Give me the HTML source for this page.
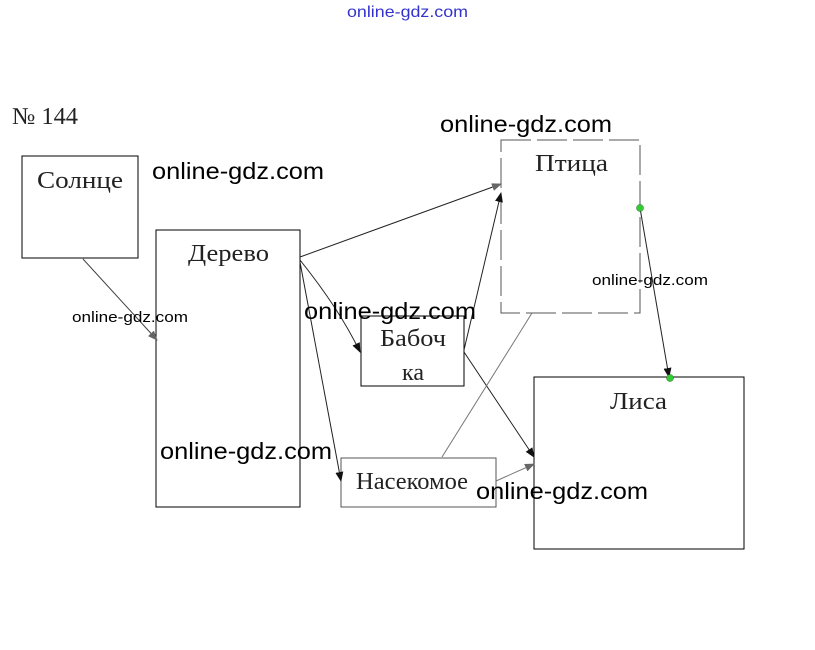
<!DOCTYPE html>
<html><head><meta charset="utf-8"><style>
html,body{margin:0;padding:0;background:#fff;width:815px;height:650px;overflow:hidden}
svg{display:block}
.s{font-family:"Liberation Serif","DejaVu Serif",serif;font-size:24px;fill:#222}
.w{font-family:"Liberation Sans","DejaVu Sans",sans-serif;fill:#000}
</style></head><body>
<svg width="815" height="650" viewBox="0 0 815 650" xmlns="http://www.w3.org/2000/svg">
<defs>
<marker id="a" markerWidth="10" markerHeight="8" refX="9" refY="4" orient="auto" markerUnits="userSpaceOnUse"><path d="M0,0 L10,4 L0,8 z" fill="#111"/></marker>
<marker id="g" markerWidth="10" markerHeight="8" refX="9" refY="4" orient="auto" markerUnits="userSpaceOnUse"><path d="M0,0 L10,4 L0,8 z" fill="#666"/></marker>
</defs>
<text x="347" y="17" textLength="121" lengthAdjust="spacingAndGlyphs" font-family="Liberation Sans,sans-serif" font-size="16" fill="#3333cc">online-gdz.com</text>
<text x="12" y="124" class="s" font-size="21" textLength="66" lengthAdjust="spacingAndGlyphs">№ 144</text>
<g fill="none" stroke="#000" stroke-width="1">
<rect x="22" y="156" width="116" height="102"/>
<rect x="156" y="230" width="144" height="277"/>
<rect x="501" y="140" width="139" height="173" stroke="#555" stroke-dasharray="30,6"/>
<rect x="361" y="316" width="103" height="70"/>
<rect x="341" y="458" width="155" height="49" stroke="#555"/>
<rect x="534" y="377" width="210" height="172"/>
</g>
<text x="37" y="188" textLength="86" lengthAdjust="spacingAndGlyphs" class="s">Солнце</text>
<text x="188" y="261" textLength="81" lengthAdjust="spacingAndGlyphs" class="s">Дерево</text>
<text x="535" y="171" textLength="73" lengthAdjust="spacingAndGlyphs" class="s" fill="#555">Птица</text>
<text x="380" y="346" textLength="66" lengthAdjust="spacingAndGlyphs" class="s" fill="#555">Бабоч</text>
<text x="413" y="380" text-anchor="middle" class="s">ка</text>
<text x="356" y="489" textLength="112" lengthAdjust="spacingAndGlyphs" class="s" fill="#444">Насекомое</text>
<text x="610" y="409" textLength="57" lengthAdjust="spacingAndGlyphs" class="s">Лиса</text>
<g fill="none" stroke-width="1">
<line x1="83" y1="259" x2="157" y2="340" stroke="#444" marker-end="url(#g)"/>
<line x1="300" y1="257" x2="501" y2="184" stroke="#222" marker-end="url(#g)"/>
<path d="M300,260 Q340,310 360,352" stroke="#222" marker-end="url(#a)"/>
<line x1="300" y1="262" x2="341" y2="481" stroke="#222" marker-end="url(#a)"/>
<line x1="464" y1="350" x2="501" y2="193" stroke="#222" marker-end="url(#a)"/>
<line x1="464" y1="352" x2="534" y2="457" stroke="#222" marker-end="url(#a)"/>
<line x1="442" y1="457" x2="532" y2="313" stroke="#777"/>
<line x1="496" y1="481" x2="534" y2="464" stroke="#777" marker-end="url(#g)"/>
<line x1="640" y1="208" x2="669" y2="377" stroke="#222" marker-end="url(#a)"/>
</g>
<circle cx="640" cy="208" r="3.5" fill="#33cc33" stroke="#226622" stroke-width="0.5"/>
<circle cx="670" cy="378" r="3.5" fill="#33cc33" stroke="#226622" stroke-width="0.5"/>
<text x="152" y="179" textLength="172" lengthAdjust="spacingAndGlyphs" class="w" font-size="23">online-gdz.com</text>
<text x="440" y="132" textLength="172" lengthAdjust="spacingAndGlyphs" class="w" font-size="23">online-gdz.com</text>
<text x="72" y="322" textLength="116" lengthAdjust="spacingAndGlyphs" class="w" font-size="15">online-gdz.com</text>
<text x="592" y="285" textLength="116" lengthAdjust="spacingAndGlyphs" class="w" font-size="15">online-gdz.com</text>
<text x="304" y="319" textLength="172" lengthAdjust="spacingAndGlyphs" class="w" font-size="23">online-gdz.com</text>
<text x="160" y="459" textLength="172" lengthAdjust="spacingAndGlyphs" class="w" font-size="23">online-gdz.com</text>
<text x="476" y="499" textLength="172" lengthAdjust="spacingAndGlyphs" class="w" font-size="23">online-gdz.com</text>
</svg>
</body></html>
